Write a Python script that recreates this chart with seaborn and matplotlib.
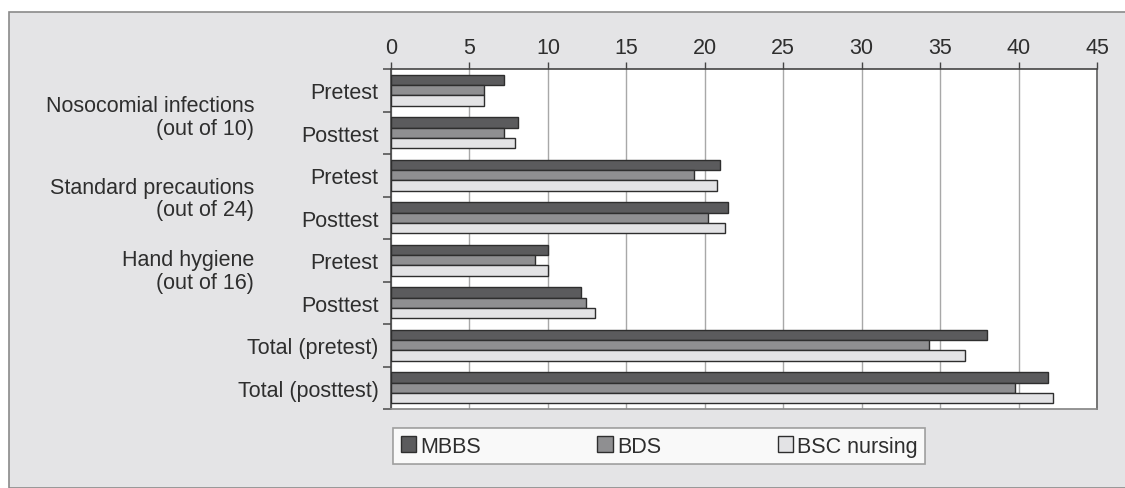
import matplotlib
matplotlib.use("Agg")
import matplotlib.pyplot as plt
import matplotlib.patches as mpatches
from matplotlib.ticker import FixedLocator
import seaborn as sns
import pandas as pd

category_keys = ["noso_pre", "noso_post", "std_pre", "std_post", "hand_pre", "hand_post",
                 "total_pre", "total_post"]
category_labels = ["Pretest", "Posttest", "Pretest", "Posttest", "Pretest", "Posttest",
                   "Total (pretest)", "Total (posttest)"]
groups = ["MBBS", "BDS", "BSC nursing"]
mbbs = [7.2, 8.1, 21.0, 21.5, 10.0, 12.1, 38.0, 41.9]
bds = [5.9, 7.2, 19.3, 20.2, 9.2, 12.4, 34.3, 39.8]
bsc = [5.9, 7.9, 20.8, 21.3, 10.0, 13.0, 36.6, 42.2]
group_labels = ["Nosocomial infections\n(out of 10)",
                "Standard precautions\n(out of 24)",
                "Hand hygiene\n(out of 16)"]
group_label_pos = [0.63, 2.55, 4.25]
xticks = [0, 5, 10, 15, 20, 25, 30, 35, 40, 45]

rows = []
for name, vals in zip(groups, [mbbs, bds, bsc]):
    for c, v in zip(category_keys, vals):
        rows.append({"category": c, "program": name, "score": v})
df = pd.DataFrame(rows)

sns.set_theme(style="white")
plt.rcParams["font.family"] = ["Liberation Sans", "DejaVu Sans"]
text_color = "#2e2e2e"
bg = "#e4e4e6"
fs = 15.5

W, H = 1125, 489
fig = plt.figure(figsize=(W / 100, H / 100), dpi=100)
fig.patch.set_facecolor("white")
bgrect = mpatches.Rectangle((9 / W, 0), 1.0, 1 - 13 / H, transform=fig.transFigure,
                            facecolor=bg, edgecolor="#8a8a8a", linewidth=1.2, zorder=-10)
fig.patches.append(bgrect)

ax = fig.add_axes([391 / W, 1 - 410 / H, (1097 - 391) / W, (410 - 70) / H])
ax.set_zorder(1)
ax.set_facecolor("white")
palette = {"MBBS": "#5b5b5d", "BDS": "#8f8f91", "BSC nursing": "#e3e3e5"}
sns.barplot(data=df, y="category", x="score", hue="program", order=category_keys,
            hue_order=groups, palette=palette, orient="h", width=0.73,
            edgecolor="#2e2e2e", linewidth=1.0, saturation=1, ax=ax, legend=False, zorder=3)

ax.set_xlim(0, 45)
ax.set_ylim(7.5, -0.5)
ax.set_yticks(range(len(category_keys)))
ax.set_yticklabels(category_labels)
ax.xaxis.tick_top()
ax.set_xticks(xticks)
ax.set_xticklabels([str(t) for t in xticks])
ax.tick_params(axis="x", top=True, length=5, width=1, color="#444444", labelsize=fs,
               labelcolor=text_color, pad=3)
ax.tick_params(axis="y", which="major", left=False, length=0, labelsize=fs,
               labelcolor=text_color, pad=9)
ax.yaxis.set_minor_locator(FixedLocator([i - 0.5 for i in range(9)]))
ax.tick_params(axis="y", which="minor", left=True, length=6, width=1.2, color="#555555")
ax.set_xlabel("")
ax.set_ylabel("")
ax.grid(axis="x", color="#a8a8a8", linewidth=1.0, zorder=0)
ax.set_axisbelow(True)
for s in ["left", "top"]:
    ax.spines[s].set_color("#444444")
    ax.spines[s].set_linewidth(1.2)
ax.spines["right"].set_color("#666666")
ax.spines["bottom"].set_color("#888888")

trans = ax.get_yaxis_transform()
for lbl, pos in zip(group_labels, group_label_pos):
    ax.text((254 - 391) / 706, pos, lbl, transform=trans, ha="right", va="center",
            fontsize=fs, color=text_color, multialignment="right", linespacing=1.1)

handles = [mpatches.Patch(facecolor=palette[g], edgecolor="#2e2e2e", linewidth=1.0, label=g)
           for g in groups]
leg = fig.legend(handles=handles, loc="upper left", bbox_to_anchor=(393 / W, 1 - 429 / H),
                 ncol=3, frameon=True, fontsize=15.5, handlelength=0.72, handleheight=0.72,
                 handletextpad=0.2, columnspacing=5.4, borderpad=0.35, fancybox=False,
                 labelcolor=text_color, borderaxespad=0)
leg.get_frame().set_edgecolor("#8a8a8a")
leg.get_frame().set_linewidth(1.2)
leg.get_frame().set_facecolor("white")

fig.savefig("out.png", dpi=100)
